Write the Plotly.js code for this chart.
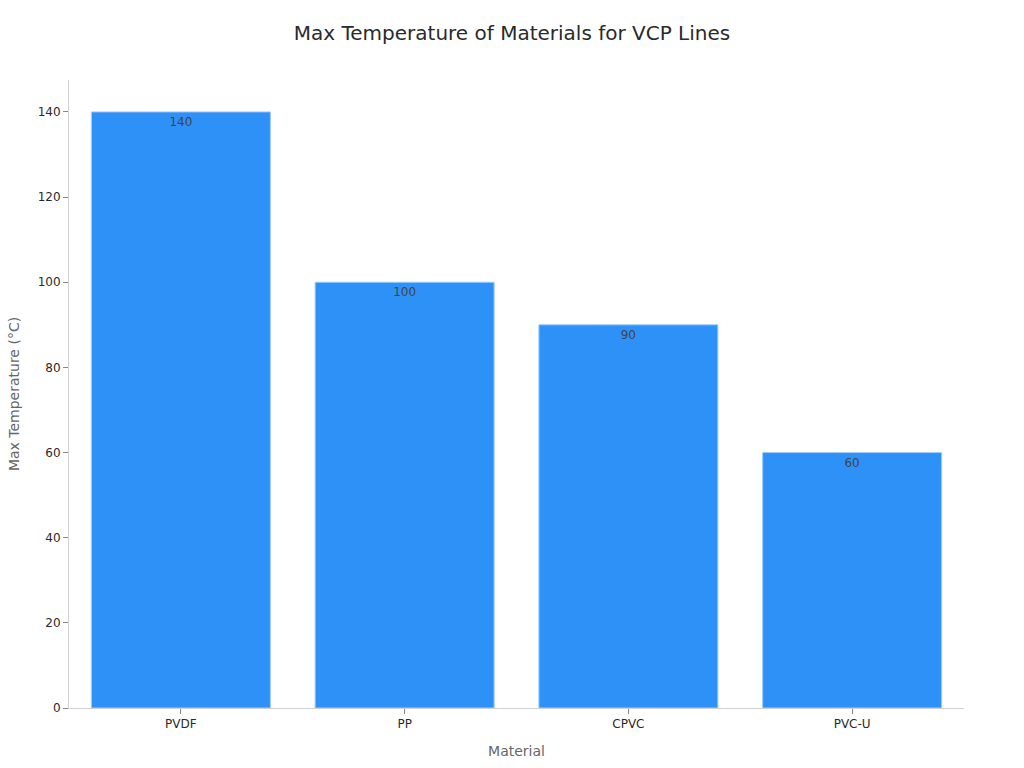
<!DOCTYPE html>
<html>
<head>
<meta charset="utf-8">
<script src="https://cdn.plot.ly/plotly-3.0.1.min.js"></script>
<style>
  html, body { margin: 0; padding: 0; background: #fff; }
  #chart { width: 1024px; height: 768px; }
</style>
</head>
<body>
<div id="chart"></div>
<script>
// Chart data
var materials = ["PVDF", "PP", "CPVC", "PVC-U"];
var maxTemps = [140, 100, 90, 60];
var tempLabels = ["140", "100", "90", "60"];

var trace = {
  type: "bar",
  x: materials,
  y: maxTemps,
  text: tempLabels,
  textposition: "inside",
  insidetextanchor: "end",
  textfont: { color: "#444", size: 12 },
  marker: { color: "#2e91f8", line: { color: "#9cccfb", width: 1 } },
  hoverinfo: "x+y"
};

var layout = {
  width: 1024,
  height: 768,
  font: { family: "DejaVu Sans, Verdana, sans-serif", color: "#2a2a2a", size: 12 },
  title: { text: "Max Temperature of Materials for VCP Lines", font: { size: 20, color: "#2a2a2a" }, x: 0.5, y: 0.957, yanchor: "middle" },
  margin: { l: 69, r: 60, t: 80, b: 60 },
  bargap: 0.2,
  plot_bgcolor: "#fff",
  paper_bgcolor: "#fff",
  showlegend: false,
  xaxis: {
    title: { text: "Material", font: { size: 14, color: "#666" }, standoff: 15 },
    showline: true, linecolor: "#d0d0d0", linewidth: 1,
    ticks: "outside", tickcolor: "#888", ticklen: 5,
    showgrid: false, zeroline: false
  },
  yaxis: {
    title: { text: "Max Temperature (°C)", font: { size: 14, color: "#666" }, standoff: 14 },
    range: [0, 147.5],
    dtick: 20,
    showline: true, linecolor: "#d0d0d0", linewidth: 1,
    ticks: "outside", tickcolor: "#888", ticklen: 5,
    showgrid: false, zeroline: false
  }
};

Plotly.newPlot("chart", [trace], layout, { displayModeBar: false, staticPlot: true });
</script>
</body>
</html>
